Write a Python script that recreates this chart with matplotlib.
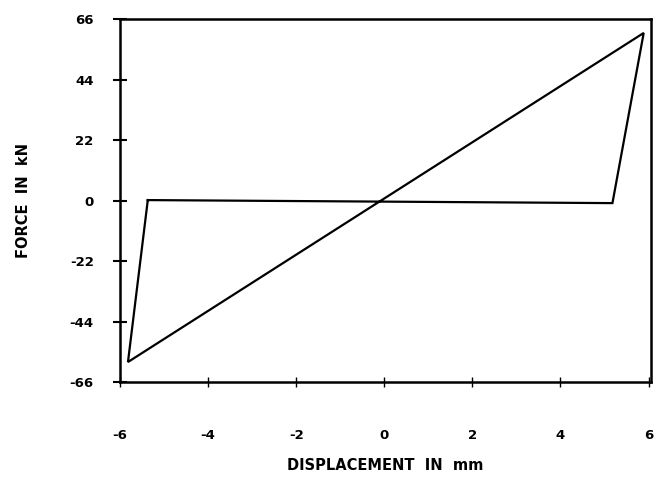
import matplotlib
matplotlib.use("Agg")
import matplotlib.pyplot as plt

# hysteresis loop (displacement mm, force kN)
disp = [-5.37, 5.18, 5.89, -5.82, -5.37]
force = [0.2, -0.9, 61.0, -58.7, 0.2]

xticks = [-6, -4, -2, 0, 2, 4, 6]
yticks = [-66, -44, -22, 0, 22, 44, 66]

fig = plt.figure(figsize=(6.56, 4.8), dpi=100)
ax = fig.add_axes([0.183, 0.204, 0.809, 0.756])
ax.plot(disp, force, color="black", lw=1.6, solid_joinstyle="miter")

ax.set_xlim(-6, 6.05)
ax.set_ylim(-66, 66)
ax.set_xticks(xticks)
ax.set_yticks(yticks)
ax.set_xticklabels([str(v) for v in xticks], fontsize=9.5, fontweight="bold")
ax.set_yticklabels([str(v) for v in yticks], fontsize=9.5, fontweight="bold")
ax.tick_params(axis="y", direction="inout", length=10, width=1.5, pad=14)
ax.tick_params(axis="x", direction="inout", length=7, width=1.0, pad=30)
for s in ax.spines.values():
    s.set_linewidth(1.8)

ax.set_xlabel("DISPLACEMENT  IN  mm", fontsize=10.5, fontweight="bold", labelpad=12)
ax.set_ylabel("FORCE  IN  kN", fontsize=10.5, fontweight="bold", labelpad=28)

fig.savefig("out.png", dpi=100)
